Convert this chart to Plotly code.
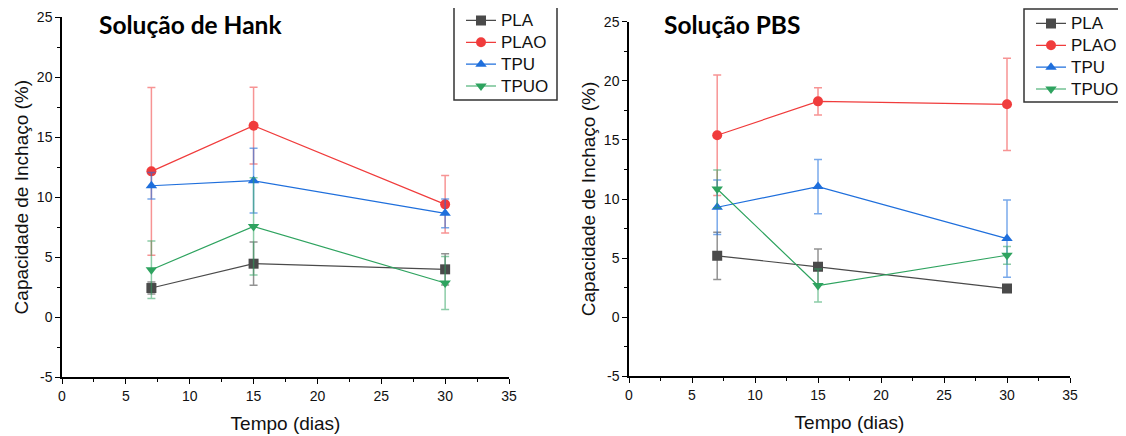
import plotly.graph_objects as go
from plotly.subplots import make_subplots

days = [7, 15, 30]
series = ["PLA", "PLAO", "TPU", "TPUO"]
x_ticks = [0, 5, 10, 15, 20, 25, 30, 35]
y_ticks = [-5, 0, 5, 10, 15, 20, 25]
y_tick_labels = ["-5", "0", "5", "10", "15", "20", "25"]

# Solução de Hank
hank_PLA = [2.42, 4.45, 3.98]
hank_PLA_err = [0.5, 1.8, 1.3]
hank_PLAO = [12.15, 15.96, 9.4]
hank_PLAO_err = [7.0, 3.2, 2.4]
hank_TPU = [10.95, 11.37, 8.65]
hank_TPU_err = [1.1, 2.7, 1.2]
hank_TPUO = [3.95, 7.56, 2.84]
hank_TPUO_err = [2.4, 4.05, 2.2]

# Solução PBS
pbs_PLA = [5.19, 4.26, 2.42]
pbs_PLA_err = [2.0, 1.5, 0.3]
pbs_PLAO = [15.39, 18.26, 18.01]
pbs_PLAO_err = [5.1, 1.16, 3.9]
pbs_TPU = [9.3, 11.05, 6.65]
pbs_TPU_err = [2.3, 2.3, 3.27]
pbs_TPUO = [10.85, 2.68, 5.24]
pbs_TPUO_err = [1.6, 1.4, 0.75]

colors = {"PLA": "#4a4a4a", "PLAO": "#f03c3c", "TPU": "#1f6fdc", "TPUO": "#2ea35f"}
err_colors = {"PLA": "rgba(74,74,74,0.6)", "PLAO": "rgba(240,60,60,0.55)",
              "TPU": "rgba(31,111,220,0.6)", "TPUO": "rgba(46,163,95,0.55)"}
symbols = {"PLA": "square", "PLAO": "circle", "TPU": "triangle-up", "TPUO": "triangle-down"}

hank = {"PLA": (hank_PLA, hank_PLA_err), "PLAO": (hank_PLAO, hank_PLAO_err),
        "TPU": (hank_TPU, hank_TPU_err), "TPUO": (hank_TPUO, hank_TPUO_err)}
pbs = {"PLA": (pbs_PLA, pbs_PLA_err), "PLAO": (pbs_PLAO, pbs_PLAO_err),
       "TPU": (pbs_TPU, pbs_TPU_err), "TPUO": (pbs_TPUO, pbs_TPUO_err)}

# page body has an 8px margin: figure drawn at (8, 8) in the window
OFF = 8
W, H = 1126 - OFF, 436 - OFF


def px(x):
    return (x - OFF) / W


def py(y):
    return 1 - (y - OFF) / H


fig = make_subplots(rows=1, cols=2)

for col, data, leg in [(1, hank, "legend"), (2, pbs, "legend2")]:
    for s in series:
        vals, errs = data[s]
        fig.add_trace(go.Scatter(
            x=days, y=vals, name="<span style='font-size:17px'>%s</span>" % s,
            mode="lines+markers",
            line=dict(color=colors[s], width=1.2),
            marker=dict(symbol=symbols[s], size=10, color=colors[s]),
            error_y=dict(type="data", array=errs, visible=True,
                         color=err_colors[s], thickness=1.5, width=4),
            legend=leg,
        ), row=1, col=col)

FONT = "Arial, Liberation Sans"
axis_font = dict(family=FONT, size=14, color="#111")
title_axis_font = dict(family=FONT, size=19, color="#111")
common_x = dict(range=[0, 35], tickmode="array", tickvals=x_ticks,
                ticks="outside", ticklen=5, tickwidth=1.2, tickcolor="black",
                minor=dict(tickvals=[2.5, 7.5, 12.5, 17.5, 22.5, 27.5, 32.5],
                           ticks="outside", ticklen=3, tickcolor="black", tickwidth=1),
                showline=True, linecolor="black", linewidth=1.5, showgrid=False,
                zeroline=False, tickfont=axis_font, automargin=False,
                title=dict(text="Tempo (dias)", font=title_axis_font, standoff=14))
common_y = dict(range=[-5, 25], tickmode="array", tickvals=y_ticks, ticktext=y_tick_labels,
                ticks="outside", ticklen=5, tickwidth=1.2, tickcolor="black",
                minor=dict(tickvals=[-2.5, 2.5, 7.5, 12.5, 17.5, 22.5],
                           ticks="outside", ticklen=3, tickcolor="black", tickwidth=1),
                showline=True, linecolor="black", linewidth=1.5, showgrid=False,
                zeroline=False, tickfont=axis_font, automargin=False,
                title=dict(text="Capacidade de Inchaço (%)", font=title_axis_font, standoff=3))

fig.update_layout(
    xaxis=dict(domain=[px(62), px(509)], **common_x),
    xaxis2=dict(domain=[px(629), px(1070)], **common_x),
    yaxis=dict(domain=[py(377), py(17.3)], **common_y),
    yaxis2=dict(domain=[py(376.3), py(21.7)], **common_y),
)

legend_style = dict(borderwidth=0, bgcolor="rgba(255,255,255,0)",
                    font=dict(family=FONT, size=14.5, color="#111"),
                    xanchor="left", yanchor="top", tracegroupgap=0)
fig.update_layout(
    legend=dict(x=px(461), y=py(4.5), **legend_style),
    legend2=dict(x=px(1031), y=py(7.5), **legend_style),
)
for x0, y0, x1, y1 in [(454, 7, 557, 100), (1024, 9, 1125, 102)]:
    fig.add_shape(type="rect", xref="paper", yref="paper",
                  x0=px(x0), x1=px(x1), y0=py(y1), y1=py(y0),
                  line=dict(color="#333", width=1.5), fillcolor="rgba(0,0,0,0)", layer="above")

title_font = dict(family="Lato, Open Sans", size=24.5, color="black")
fig.add_annotation(text="<b>Solução de Hank</b>", x=px(97), y=py(24),
                   xref="paper", yref="paper", xanchor="left", yanchor="middle",
                   showarrow=False, font=title_font)
fig.add_annotation(text="<b>Solução PBS</b>", x=px(662), y=py(24),
                   xref="paper", yref="paper", xanchor="left", yanchor="middle",
                   showarrow=False, font=title_font)

fig.update_layout(width=W, height=H,
                  margin=dict(l=0, r=0, t=0, b=0, autoexpand=False),
                  plot_bgcolor="white", paper_bgcolor="white", showlegend=True)

fig.write_html("out.html")
